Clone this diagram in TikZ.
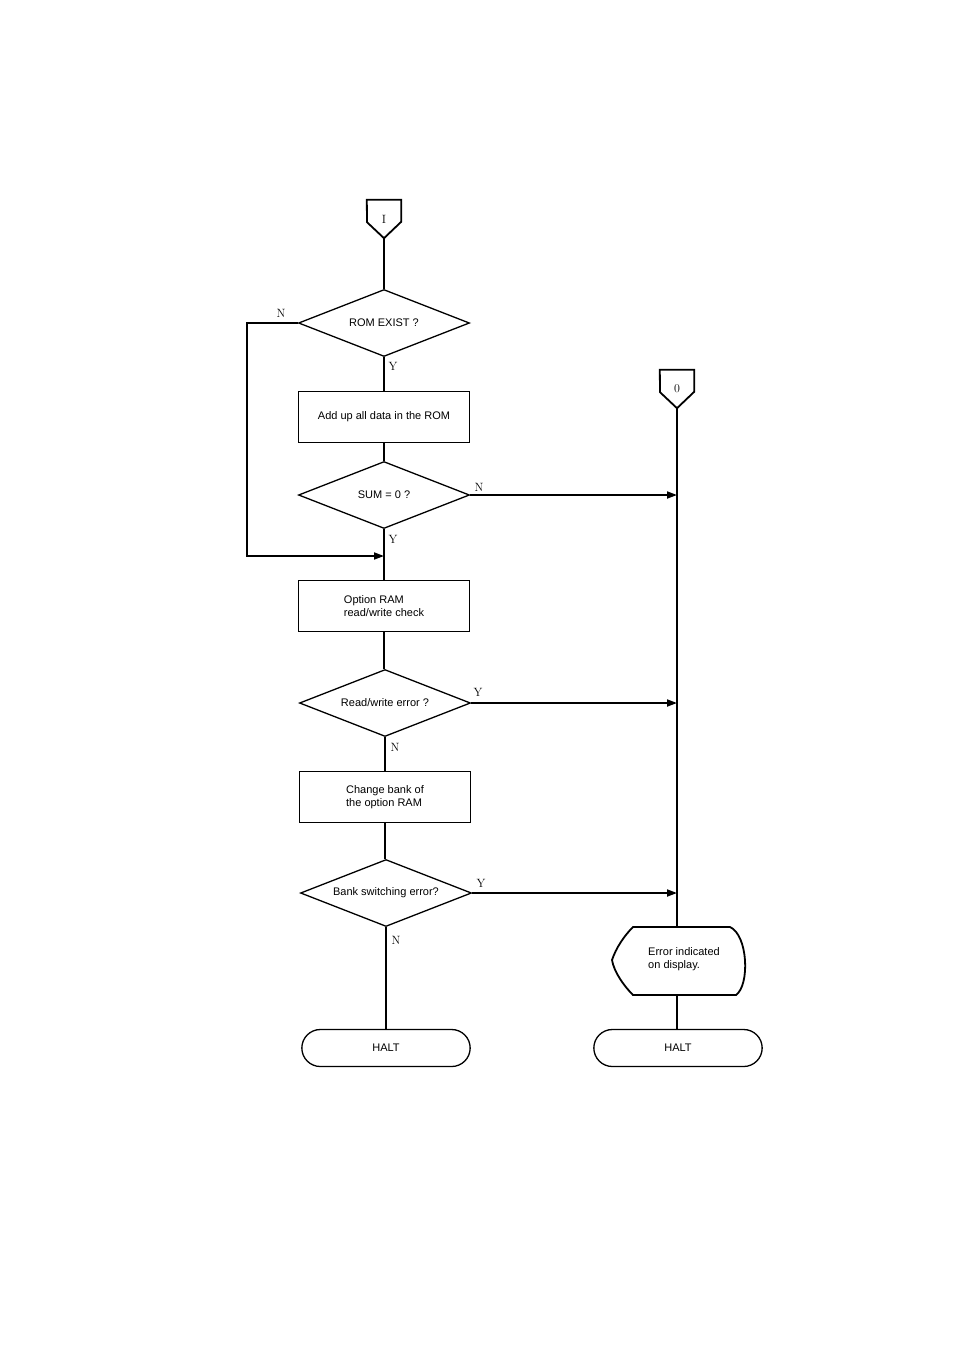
\documentclass[tikz,border=0pt]{standalone}
\usepackage{fontspec}
\newfontfamily\chartfont{Liberation Sans}
\usetikzlibrary{arrows.meta, shapes.geometric, shapes.misc}

\begin{document}
\begin{tikzpicture}[
  x=1pt, y=-1pt,
  line/.style={line width=1.8pt},
  flow/.style={line width=1.8pt, -{Triangle[length=10pt,width=7pt]}},
  decision/.style={
    diamond, draw, line width=1.3pt, inner sep=0pt, aspect=2.55,
    minimum width=171pt, minimum height=67pt,
    font=\chartfont\fontsize{11}{13}\selectfont
  },
  process/.style={
    rectangle, draw, line width=1.3pt, align=left,
    minimum width=171pt, minimum height=51pt,
    font=\chartfont\fontsize{11}{13}\selectfont
  },
  terminal/.style={
    rounded rectangle, draw, line width=1.3pt,
    minimum width=175pt, minimum height=37pt,
    font=\chartfont\fontsize{11}{13}\selectfont
  },
  conn/.style={
    rectangle, inner sep=0pt, minimum width=34pt, minimum height=38pt,
    font=\fontsize{12}{14}\selectfont
  },
  yn/.style={font=\fontsize{12}{14}\selectfont, inner sep=0pt}
]

% page
\useasboundingbox (0,0) rectangle (954,1350);

% off-page connectors
\node[conn] (conI) at (384,219) {I};
\draw[line] (conI.north west) -- (conI.north east) -- ++(0,22) -- (conI.south) -- ++(-17,-16) -- cycle;
\node[conn] (conO) at (677,389) {0};
\draw[line] (conO.north west) -- (conO.north east) -- ++(0,22) -- (conO.south) -- ++(-17,-16) -- cycle;

% main column
\node[decision] (rom)  at (384,323) {ROM EXIST ?};
\node[process]  (add)  at (384,417) {Add up all data in the ROM};
\node[decision] (sum)  at (384,495) {SUM = 0 ?};
\node[process]  (ram)  at (384,606) {Option RAM\\read/write check};
\node[decision] (rw)   at (385,703) {Read/write error ?};
\node[process]  (bank) at (385,797) {Change bank of\\the option RAM};
\node[decision] (bsw)  at (386,893) {Bank switching error?};
\node[terminal] (haltL) at (386,1048) {HALT};

% error branch
\node[font=\chartfont\fontsize{11}{13}\selectfont, align=left, inner sep=0pt,
      minimum width=124pt, minimum height=68pt] (disp) at (684,959)
      {Error indicated\\on display.};
\draw[line] (633,927) -- (730,927)
  .. controls (748,935) and (750,985) .. (736,995) -- (633,995)
  .. controls (624,986) and (614,972) .. (612,960)
  .. controls (616,948) and (624,936) .. (633,927) -- cycle;
\node[terminal] (haltR) at (678,1048) {HALT};

% connectors
\draw[line] (conI.south) -- (rom.north);
\draw[line] (rom.south) -- (add.north);
\draw[line] (add.south) -- (sum.north);
\coordinate (join) at (384,556);
\draw[flow] (rom.west) -- ++(-51,0) |- (join);
\draw[line] (sum.south) -- (ram.north);
\draw[line] (ram.south) -- (ram.south |- rw.north);
\draw[line] (rw.south) -- (rw.south |- bank.north);
\draw[line] (bank.south) -- (bank.south |- bsw.north);
\draw[line] (bsw.south) -- (bsw.south |- haltL.north);

\draw[line] (conO.south) -- (conO.south |- 0,927);
\draw[line] (conO.south |- 0,995) -- (conO.south |- haltR.north);
\draw[flow] (sum.east) -- (sum.east -| conO.south);
\draw[flow] (rw.east) -- (rw.east -| conO.south);
\draw[flow] (bsw.east) -- (bsw.east -| conO.south);

% branch labels
\node[yn] (romN) at (281,313) {N};
\node[yn] (romY) at (393,366) {Y};
\node[yn] (sumN) at (479,487) {N};
\node[yn] (sumY) at (393,539) {Y};
\node[yn] (rwY)  at (478,692) {Y};
\node[yn] (rwN)  at (395,747) {N};
\node[yn] (bswY) at (481,883) {Y};
\node[yn] (bswN) at (396,940) {N};

\end{tikzpicture}
\end{document}
